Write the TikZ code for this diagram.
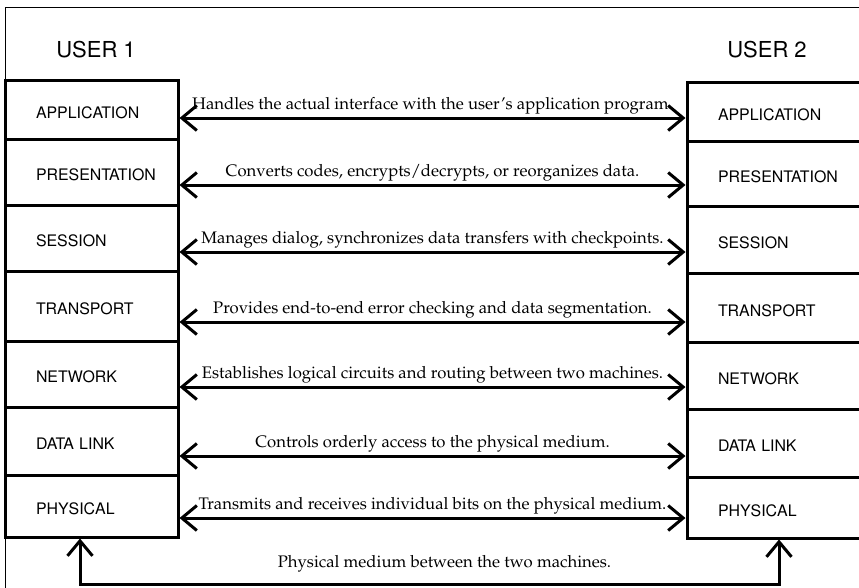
\documentclass[tikz,border=0pt]{standalone}
\usepackage[T1]{fontenc}
\usepackage{palatino}
\usetikzlibrary{arrows.meta}

\begin{document}
\begin{tikzpicture}[
    x=1pt, y=-1pt,
    layer/.style={rectangle, draw, line width=3pt, minimum width=173pt, inner xsep=31pt,
        text width=111pt, align=left, text height=17pt, text depth=0pt,
        font=\sffamily\fontsize{15.9}{18}\selectfont},
    user/.style={font=\sffamily\fontsize{22}{26}\selectfont},
    link/.style={{Straight Barb[length=15pt, width=25pt]}-{Straight Barb[length=15pt, width=25pt]}, line width=3pt},
    duty/.style={midway, anchor=base, yshift=8.5pt, inner sep=0pt, font=\fontsize{16.7}{19}\selectfont}
]
\useasboundingbox (0,0) rectangle (859,587);

% Outer frame
\draw[line width=1pt] (5,600) -- (5,7) -- (870,7);

% User 1 stack
\node[user] (user1) at (96,50) {USER 1};
\node[layer, minimum height=59pt] (app1) at (91.5,109.5) {APPLICATION};
\node[layer, minimum height=66pt] (pres1) at (91.5,172) {PRESENTATION};
\node[layer, minimum height=66pt] (sess1) at (91.5,238) {SESSION};
\node[layer, minimum height=70pt] (trans1) at (91.5,306) {TRANSPORT};
\node[layer, minimum height=66pt] (net1) at (91.5,374) {NETWORK};
\node[layer, minimum height=68pt] (link1) at (91.5,441) {DATA LINK};
\node[layer, minimum height=62pt] (phys1) at (91.5,506) {PHYSICAL};

% User 2 stack
\node[user] (user2) at (767,50) {USER 2};
\node[layer, minimum height=59pt] (app2) at (773.5,111.5) {APPLICATION};
\node[layer, minimum height=65pt] (pres2) at (773.5,173.5) {PRESENTATION};
\node[layer, minimum height=67pt] (sess2) at (773.5,239.5) {SESSION};
\node[layer, minimum height=69pt] (trans2) at (773.5,307.5) {TRANSPORT};
\node[layer, minimum height=67pt] (net2) at (773.5,375.5) {NETWORK};
\node[layer, minimum height=68pt] (link2) at (773.5,443) {DATA LINK};
\node[layer, minimum height=61pt] (phys2) at (773.5,507.5) {PHYSICAL};

% Peer protocols
\draw[link] (app1.east |- 0,118) -- node[duty] {Handles the actual interface with the user's application program.} (app2.west |- 0,118);
\draw[link] (pres1.east |- 0,185) -- node[duty] {Converts codes, encrypts/decrypts, or reorganizes data.} (pres2.west |- 0,185);
\draw[link] (sess1.east |- 0,252) -- node[duty] {Manages dialog, synchronizes data transfers with checkpoints.} (sess2.west |- 0,252);
\draw[link] (trans1.east |- 0,322) -- node[duty] {Provides end-to-end error checking and data segmentation.} (trans2.west |- 0,322);
\draw[link] (net1.east |- 0,387) -- node[duty] {Establishes logical circuits and routing between two machines.} (net2.west |- 0,387);
\draw[link] (link1.east |- 0,456) -- node[duty] {Controls orderly access to the physical medium.} (link2.west |- 0,456);
\draw[link] (phys1.east |- 0,518) -- node[duty] {Transmits and receives individual bits on the physical medium.} (phys2.west |- 0,518);

% Physical medium
\coordinate (wire1) at (80,584);
\coordinate (wire2) at (779,584);
\draw[link] (phys1.south -| wire1) -- (wire1) -- node[duty, yshift=8pt, xshift=15pt] {Physical medium between the two machines.} (wire2) -- (phys2.south -| wire2);

\end{tikzpicture}
\end{document}
